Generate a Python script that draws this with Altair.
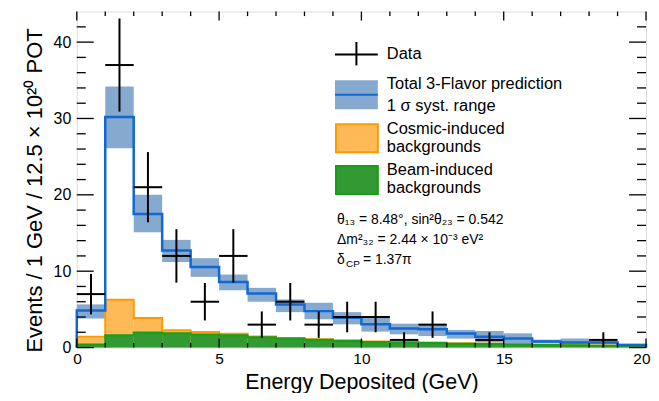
import altair as alt
import pandas as pd

# ---------------- data ----------------
bin_lo = list(range(0, 20))
bin_hi = list(range(1, 21))

pred = [4.86, 30.2, 17.5, 12.7, 10.56, 8.6, 7.08, 5.65, 4.77, 3.91,
        3.04, 2.48, 2.39, 1.83, 1.40, 1.17, 0.80, 0.65, 0.65, 0.34]
band_lo = [3.8, 26.1, 15.1, 11.2, 9.26, 7.5, 6.0, 4.64, 3.7, 3.04,
           2.09, 1.73, 1.51, 1.17, 0.65, 0.43, 0.60, 0.43, 0.43, 0.20]
band_hi = [5.65, 34.2, 20.0, 14.1, 11.7, 9.56, 7.82, 6.3, 5.87, 4.64,
           3.91, 3.13, 3.04, 2.30, 2.17, 1.86, 1.04, 1.17, 0.90, 0.50]
cosmic_top = [1.43, 6.26, 3.86, 2.25, 2.03, 1.82, 1.45, 1.25, 1.10, 0.95,
              0.80, 0.72, 0.66, 0.56, 0.50, 0.44, 0.38, 0.33, 0.28, 0.22]
beam_top = [0.40, 1.60, 1.98, 1.86, 1.72, 1.60, 1.36, 1.17, 1.02, 0.86,
            0.74, 0.66, 0.60, 0.51, 0.45, 0.40, 0.35, 0.30, 0.25, 0.20]

data_x = [0.5, 1.5, 2.5, 3.5, 4.5, 5.5, 6.5, 7.5, 8.5, 9.5, 10.5, 11.5, 12.5, 14.5, 18.5]
data_val = [7, 37, 21, 12, 6, 12, 3, 6, 3, 4, 4, 1, 3, 1, 1]
data_lo = [4.35, 30.9, 16.4, 8.5, 3.55, 8.5, 1.27, 3.55, 1.27, 2.0, 2.0, 0.0, 1.27, 0.0, 0.0]
data_hi = [9.65, 43.1, 25.6, 15.5, 8.45, 15.5, 4.73, 8.45, 4.73, 6.0, 6.0, 2.0, 4.73, 2.0, 2.0]

x_major = [0, 5, 10, 15, 20]
x_minor = [v for v in range(0, 21) if v % 5 != 0]
y_major = [0, 10, 20, 30, 40]
y_minor = [v for v in range(2, 44, 2) if v % 10 != 0]

X_TITLE = "Energy Deposited (GeV)"
Y_TITLE = "Events / 1 GeV / 12.5 \u00d7 10\u00b2\u2070 POT"

# ---------------- styling ----------------
W, H = 571, 337
FONT = "Liberation Sans"
C_BAND = "#86a9d0"
C_LINE = "#1268d2"
C_OR_FILL = "#ffb957"
C_OR_LINE = "#ff9a00"
C_GR_FILL = "#339933"
C_GR_LINE = "#16a016"

xs = alt.Scale(domain=[0, 20], nice=False, zero=False)
ys = alt.Scale(domain=[0, 44], nice=False, zero=False)

bins = pd.DataFrame({"lo": bin_lo, "hi": bin_hi, "pred": pred,
                     "blo": band_lo, "bhi": band_hi,
                     "cos": cosmic_top, "beam": beam_top})


def step_path(values):
    rows = [(0.0, 0.0)]
    for lo, hi, v in zip(bin_lo, bin_hi, values):
        rows.append((lo, v))
        rows.append((hi, v))
    rows.append((bin_hi[-1], 0.0))
    return pd.DataFrame({"x": [r[0] for r in rows], "y": [r[1] for r in rows],
                         "i": list(range(len(rows)))})


X_AX = alt.Axis(values=x_major, tickSize=0, domain=False, grid=False, labelPadding=4,
                labelFontSize=15.5, labelColor="black", labelFlush=True, labelFlushOffset=4,
                title=X_TITLE, titleFontSize=21.5,
                titleFontWeight="normal", titleColor="black", titleBaseline="alphabetic",
                titleY=41.5, format="d")
Y_AX = alt.Axis(values=y_major, tickSize=0, domain=False, grid=False, labelPadding=6,
                labelFontSize=16, labelColor="black", labelFlush=False,
                title=Y_TITLE, titleFontSize=22,
                titleFontWeight="normal", titleColor="black", titleBaseline="alphabetic",
                titleX=-35, titleY=179, titleAngle=270, format="d")

band = alt.Chart(bins).mark_rect(color=C_BAND).encode(
    x=alt.X("lo:Q", scale=xs, axis=X_AX),
    x2="hi:Q",
    y=alt.Y("blo:Q", scale=ys, axis=Y_AX),
    y2="bhi:Q",
)

orange_fill = alt.Chart(bins).mark_rect(color=C_OR_FILL).encode(
    x=alt.X("lo:Q", scale=xs), x2="hi:Q",
    y=alt.Y("cos:Q", scale=ys), y2=alt.datum(0))
orange_line = alt.Chart(step_path(cosmic_top)).mark_line(
    color=C_OR_LINE, strokeWidth=2).encode(
    x=alt.X("x:Q", scale=xs), y=alt.Y("y:Q", scale=ys), order="i:Q")

green_fill = alt.Chart(bins).mark_rect(color=C_GR_FILL).encode(
    x=alt.X("lo:Q", scale=xs), x2="hi:Q",
    y=alt.Y("beam:Q", scale=ys), y2=alt.datum(0))
green_line = alt.Chart(step_path(beam_top)).mark_line(
    color=C_GR_LINE, strokeWidth=2).encode(
    x=alt.X("x:Q", scale=xs), y=alt.Y("y:Q", scale=ys), order="i:Q")

blue_line = alt.Chart(step_path(pred)).mark_line(
    color=C_LINE, strokeWidth=2.5).encode(
    x=alt.X("x:Q", scale=xs), y=alt.Y("y:Q", scale=ys), order="i:Q")

dd = pd.DataFrame({"x": data_x, "v": data_val, "lo": data_lo, "hi": data_hi})
dd["xl"] = dd["x"] - 0.5
dd["xh"] = dd["x"] + 0.5
data_v = alt.Chart(dd).mark_rule(color="black", strokeWidth=2).encode(
    x=alt.X("x:Q", scale=xs), y=alt.Y("lo:Q", scale=ys), y2="hi:Q")
data_h = alt.Chart(dd).mark_rule(color="black", strokeWidth=2).encode(
    x=alt.X("xl:Q", scale=xs), x2="xh:Q", y=alt.Y("v:Q", scale=ys))

# ---------------- inward ticks (ROOT style) ----------------
def yticks(vals, length):
    df = pd.DataFrame({"t": vals})
    left = alt.Chart(df).mark_rule(color="black", strokeWidth=1.3).encode(
        y=alt.Y("t:Q", scale=ys), x=alt.value(0), x2=alt.value(length))
    right = alt.Chart(df).mark_rule(color="black", strokeWidth=1.3).encode(
        y=alt.Y("t:Q", scale=ys), x=alt.value(W - length), x2=alt.value(W))
    return [left, right]


def xticks(vals, length):
    df = pd.DataFrame({"t": vals})
    bottom = alt.Chart(df).mark_rule(color="black", strokeWidth=1.3).encode(
        x=alt.X("t:Q", scale=xs), y=alt.value(H - length), y2=alt.value(H))
    top = alt.Chart(df).mark_rule(color="black", strokeWidth=1.3).encode(
        x=alt.X("t:Q", scale=xs), y=alt.value(0), y2=alt.value(length))
    return [bottom, top]


ticks = yticks(y_major, 17) + yticks(y_minor, 9) + xticks(x_major, 9) + xticks(x_minor, 4.5)

# ---------------- legend & annotation ----------------
one = pd.DataFrame({"a": [0]})


def txt(s, x, y, size=16.5):
    return alt.Chart(one).mark_text(align="left", baseline="middle", fontSize=size,
                                    font=FONT, color="black").encode(
        x=alt.value(x), y=alt.value(y), text=alt.value(s))


def box(x1, x2, y1, y2, fill, stroke=None):
    kw = dict(color=fill)
    if stroke:
        kw = dict(fill=fill, stroke=stroke, strokeWidth=2)
    return alt.Chart(one).mark_rect(**kw).encode(
        x=alt.value(x1), x2=alt.value(x2), y=alt.value(y1), y2=alt.value(y2))


def seg(x1, x2, y1, y2, color, w):
    return alt.Chart(one).mark_rule(color=color, strokeWidth=w).encode(
        x=alt.value(x1), x2=alt.value(x2), y=alt.value(y1), y2=alt.value(y2))


legend = [
    seg(259, 302, 43, 43, "black", 2),
    seg(280.5, 280.5, 30.5, 54, "black", 2),
    txt("Data", 311, 43),
    box(259, 302, 69, 98, C_BAND),
    seg(259, 302, 83.5, 83.5, C_LINE, 2),
    txt("Total 3-Flavor prediction", 311, 72.5),
    txt("1 \u03c3 syst. range", 311, 95),
    box(260, 302, 113, 141, C_OR_FILL, C_OR_LINE),
    txt("Cosmic-induced", 311, 117.5),
    txt("backgrounds", 311, 136),
    box(260, 302, 155, 183, C_GR_FILL, C_GR_LINE),
    txt("Beam-induced", 311, 159),
    txt("backgrounds", 311, 176.5),
    txt("\u03b8\u2081\u2083 = 8.48\u00b0, sin\u00b2\u03b8\u2082\u2083 = 0.542", 261, 209, 14),
    txt("\u0394m\u00b2\u2083\u2082 = 2.44 \u00d7 10\u207b\u00b3 eV\u00b2", 261, 229, 14),
    txt("\u03b4", 261, 249, 14),
    txt("CP", 270, 253, 10),
    txt("= 1.37\u03c0", 287, 249, 14),
]

chart = alt.layer(
    band, orange_fill, orange_line, green_fill, green_line, blue_line,
    data_v, data_h, *ticks, *legend
).properties(
    width=W, height=H,
    padding={"left": 69, "top": 3, "right": 5, "bottom": 45},
    autosize=alt.AutoSizeParams(type="none"),
).configure_view(
    stroke="black", strokeWidth=2
).configure(
    font=FONT, background="white"
)

chart.save("out.html", embed_options={"renderer": "svg", "actions": False})
